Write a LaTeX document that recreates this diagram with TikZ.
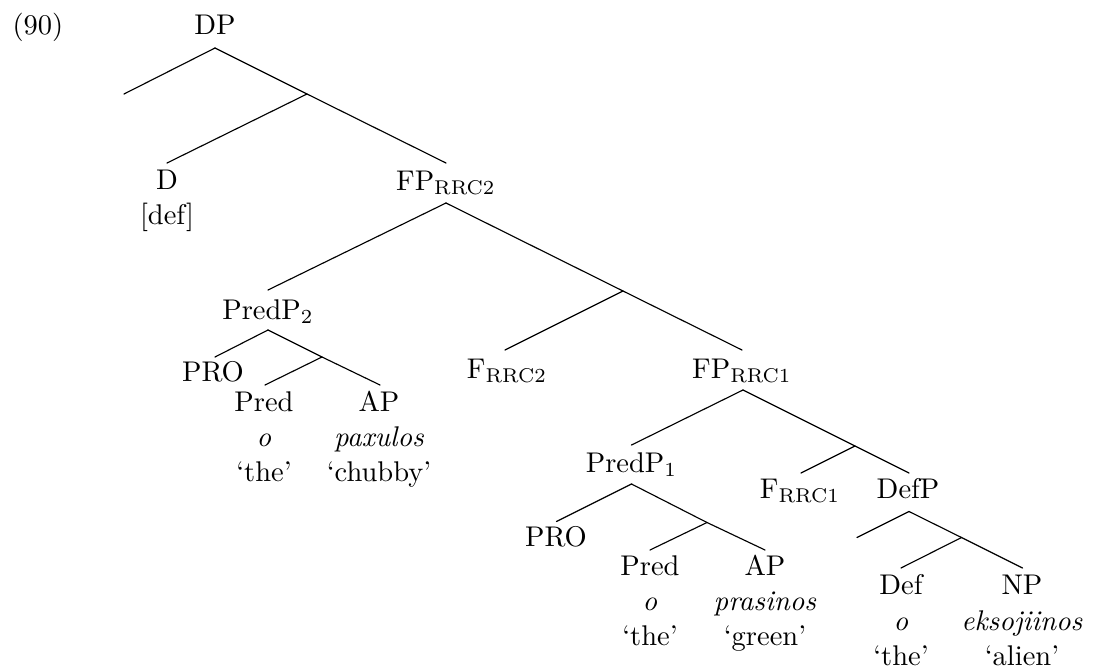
\documentclass[tikz,border=0pt]{standalone}
\begin{document}
\begin{tikzpicture}[x=0.351pt,y=-0.351pt,
  lbl/.style={anchor=base,inner sep=0pt,font=\fontsize{10}{12}\selectfont},
  br/.style={line width=0.4pt,line cap=round}]
\useasboundingbox (0,0) rectangle (1093,669);
% labels
\node[lbl,anchor=base west] (ex) at (12,35) {(90)};
\node[lbl] (DP) at (215,35) {DP};
\node[lbl] (D) at (167,189) {D};
\node[lbl] (Ddef) at (167,224) {[def]};
\node[lbl] (FP2) at (446,190) {FP$_{\mathrm{RRC2}}$};
\node[lbl] (PredP2) at (268,319) {PredP$_2$};
\node[lbl] (F2) at (507,378) {F$_{\mathrm{RRC2}}$};
\node[lbl] (FP1) at (742,378) {FP$_{\mathrm{RRC1}}$};
\node[lbl] (PRO2) at (213,381) {PRO};
\node[lbl] (Pred2) at (264,411) {Pred};
\node[lbl] (Pred2o) at (264,446) {\textit{o}};
\node[lbl] (Pred2g) at (264,481) {`the'};
\node[lbl] (AP2) at (379,411) {AP};
\node[lbl] (AP2w) at (379,446) {\textit{paxulos}};
\node[lbl] (AP2g) at (379,481) {`chubby'};
\node[lbl] (PredP1) at (631.5,472) {PredP$_1$};
\node[lbl] (F1) at (800,498) {F$_{\mathrm{RRC1}}$};
\node[lbl] (DefP) at (908,498) {DefP};
\node[lbl] (PRO1) at (556,546) {PRO};
\node[lbl] (Pred1) at (650,575) {Pred};
\node[lbl] (Pred1o) at (650,610) {\textit{o}};
\node[lbl] (Pred1g) at (650,645) {`the'};
\node[lbl] (AP1) at (765,575) {AP};
\node[lbl] (AP1w) at (765,610) {\textit{prasinos}};
\node[lbl] (AP1g) at (765,645) {`green'};
\node[lbl] (Def) at (901,594) {Def};
\node[lbl] (Defo) at (901,630) {\textit{o}};
\node[lbl] (Defg) at (901,665) {`the'};
\node[lbl] (NP) at (1022,594) {NP};
\node[lbl] (NPw) at (1022,630) {\textit{eksojiinos}};
\node[lbl] (NPg) at (1022,665) {`alien'};
% branch points
\coordinate (aDP) at (215,48);
\coordinate (eL0) at (124,94);
\coordinate (m0) at (307,94);
\coordinate (tD) at (167,163);
\coordinate (tFP2) at (446,163);
\coordinate (aFP2) at (446,203);
\coordinate (tPredP2) at (268,290);
\coordinate (m1) at (623,291);
\coordinate (tF2) at (505,350);
\coordinate (tFP1) at (742,350);
\coordinate (aPredP2) at (268,330);
\coordinate (tPRO2) at (215,357);
\coordinate (m2) at (322,357);
\coordinate (tPred2) at (265,385);
\coordinate (tAP2) at (380,385);
\coordinate (aFP1) at (743,390);
\coordinate (tPredP1) at (631.5,445);
\coordinate (m3) at (855,446);
\coordinate (tF1) at (801,473);
\coordinate (tDefP) at (909,473);
\coordinate (aPredP1) at (631.5,484);
\coordinate (tPRO1) at (556.5,521.5);
\coordinate (m4) at (707,522.5);
\coordinate (tPred1) at (650,550);
\coordinate (tAP1) at (765,550);
\coordinate (aDefP) at (909,511.5);
\coordinate (eL5) at (857,537.5);
\coordinate (m5) at (961.5,537.5);
\coordinate (tDef) at (901,568);
\coordinate (tNP) at (1022.5,568);
% branches
\draw[br] (aDP) -- (eL0);
\draw[br] (aDP) -- (m0) -- (tFP2);
\draw[br] (m0) -- (tD);
\draw[br] (aFP2) -- (tPredP2);
\draw[br] (aFP2) -- (m1) -- (tFP1);
\draw[br] (m1) -- (tF2);
\draw[br] (aPredP2) -- (tPRO2);
\draw[br] (aPredP2) -- (m2) -- (tAP2);
\draw[br] (m2) -- (tPred2);
\draw[br] (aFP1) -- (tPredP1);
\draw[br] (aFP1) -- (m3) -- (tDefP);
\draw[br] (m3) -- (tF1);
\draw[br] (aPredP1) -- (tPRO1);
\draw[br] (aPredP1) -- (m4) -- (tAP1);
\draw[br] (m4) -- (tPred1);
\draw[br] (aDefP) -- (eL5);
\draw[br] (aDefP) -- (m5) -- (tNP);
\draw[br] (m5) -- (tDef);
\end{tikzpicture}
\end{document}
